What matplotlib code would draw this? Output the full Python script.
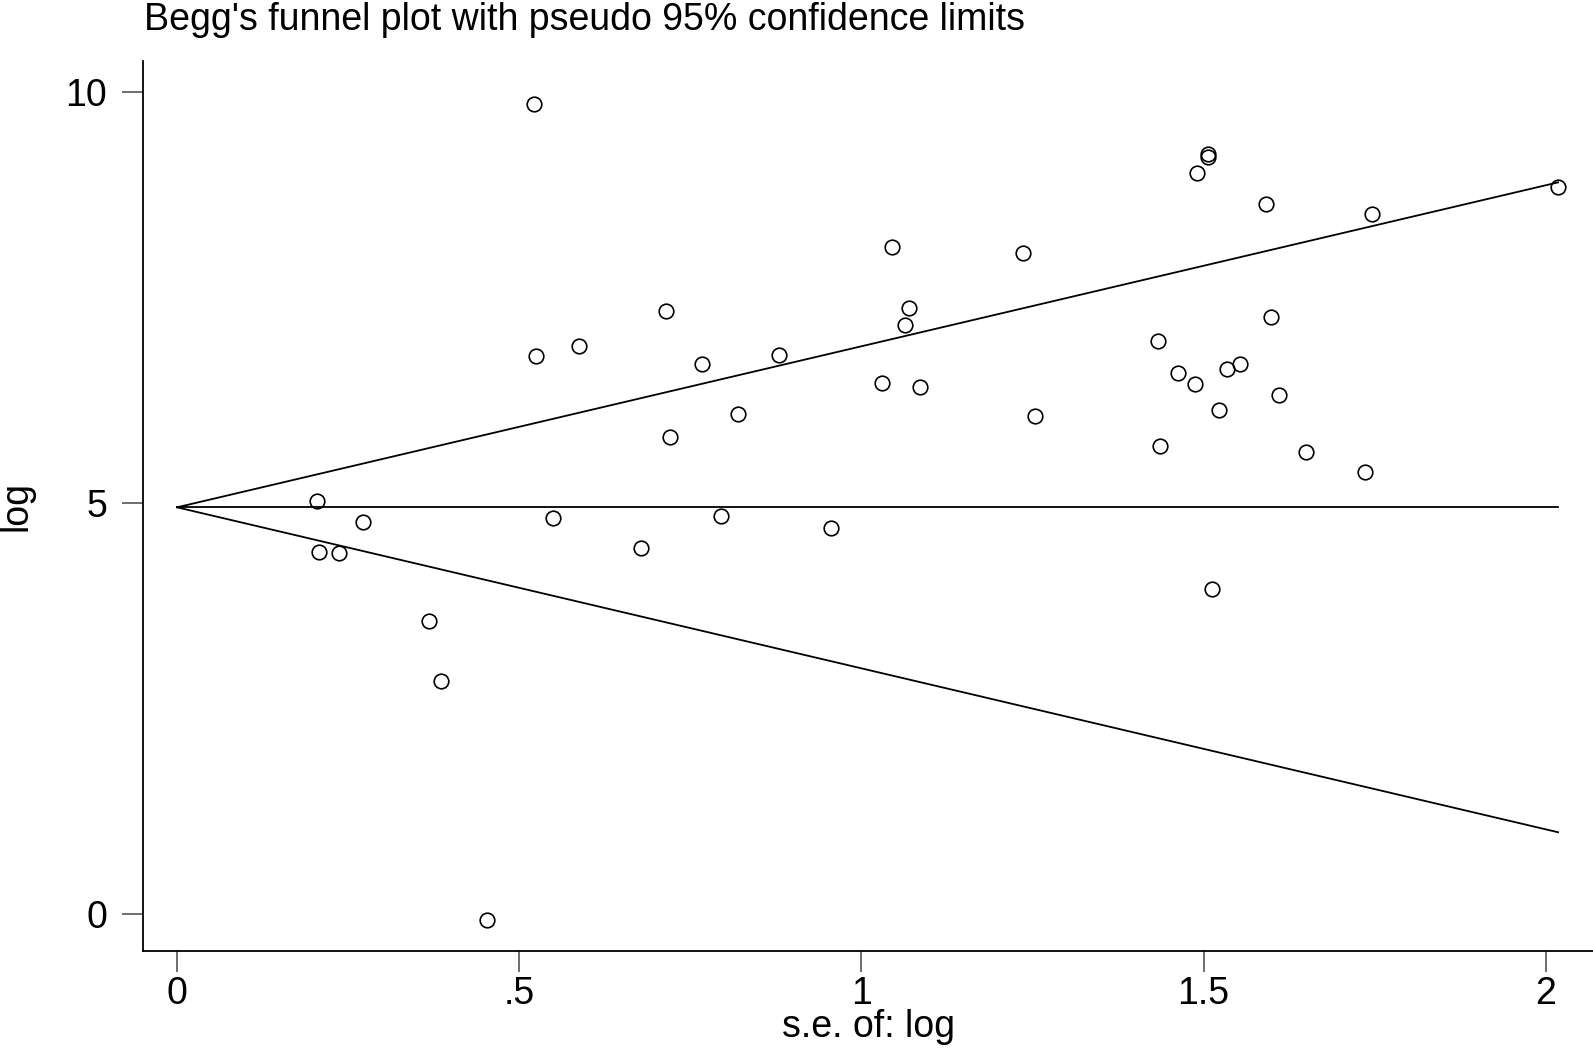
import matplotlib
matplotlib.use("Agg")
import matplotlib.pyplot as plt
import numpy as np

# s.e. and log estimate for each study
se = [0.521, 1.506, 1.507, 1.490, 2.018, 1.591, 1.746, 1.045, 1.236, 0.715,
      1.070, 1.064, 1.599, 1.433, 0.588, 0.524, 0.880, 0.767, 1.553, 1.463,
      1.534, 1.030, 1.085, 1.487, 1.610, 1.522, 0.819, 1.254, 0.721, 1.436,
      1.650, 1.736, 0.205, 0.550, 0.795, 0.272, 0.955, 0.678, 0.208, 0.236,
      1.513, 0.368, 0.386, 0.453]
logs = [9.86, 9.25, 9.21, 9.02, 8.85, 8.64, 8.52, 8.12, 8.05, 7.34,
        7.37, 7.17, 7.27, 6.97, 6.91, 6.79, 6.80, 6.69, 6.70, 6.59,
        6.63, 6.46, 6.42, 6.45, 6.32, 6.13, 6.08, 6.06, 5.81, 5.70,
        5.62, 5.38, 5.03, 4.82, 4.85, 4.77, 4.70, 4.46, 4.41, 4.39,
        3.96, 3.57, 2.83, -0.07]
pooled = 4.95

plt.rcParams['font.family'] = ['Liberation Sans', 'DejaVu Sans']

fig = plt.figure(figsize=(15.93, 10.48), dpi=100)
ax = fig.add_axes([0.0898, 0.0926, 0.9102, 0.849])

# pseudo 95% limits
s = np.array([0, max(se)])
ax.plot(s, pooled + 1.96 * s, color='black', lw=1.3)
ax.plot(s, pooled - 1.96 * s, color='black', lw=1.3)
ax.plot(s, [pooled, pooled], color='black', lw=1.3)
ax.plot(se, logs, 'o', mfc='none', mec='black', ms=10.5, mew=1.2)

ax.set_xlim(-0.0497, 2.069)
ax.set_ylim(-0.45, 10.38)
ax.set_xticks([0, 0.5, 1, 1.5, 2])
ax.set_xticklabels(['0', '.5', '1', '1.5', '2'])
ax.set_yticks([0, 5, 10])
ax.tick_params(direction='out', length=15, width=1.2, color='#555555',
               labelsize=27)
ax.tick_params(axis='x', pad=3)
ax.tick_params(axis='y', pad=11)

for side in ['top', 'right']:
    ax.spines[side].set_visible(False)
for side in ['left', 'bottom']:
    ax.spines[side].set_linewidth(1.3)

ax.set_xlabel('s.e. of: log', fontsize=27, va='baseline')
ax.xaxis.set_label_coords(0.5, -0.0966)
ax.set_ylabel('log', fontsize=27, labelpad=22)
fig.text(0.0904, 0.9714, "Begg's funnel plot with pseudo 95% confidence limits",
         fontsize=27, ha='left', va='baseline')

fig.savefig('out.png', dpi=100)
